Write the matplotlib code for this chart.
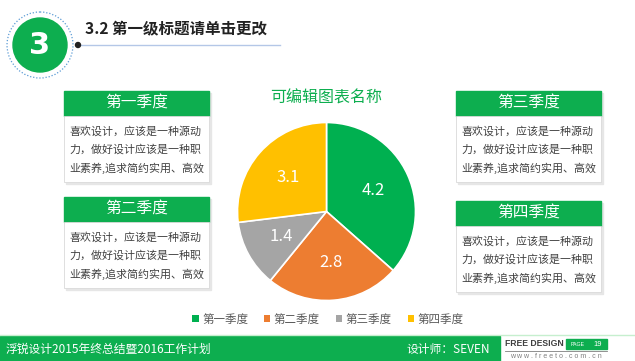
import matplotlib
matplotlib.use('Agg')
from matplotlib import pyplot as plt
from matplotlib.patches import Rectangle, Circle
import numpy as np

plt.rcParams['font.family'] = ['Noto Sans CJK SC', 'DejaVu Sans']

# data
quarters = ['第一季度', '第二季度', '第三季度', '第四季度']
values = [4.2, 2.8, 1.4, 3.1]
colors = ['#00B050', '#ED7D31', '#A5A5A5', '#FFC000']
chart_title = '可编辑图表名称'
page_title = '3.2 第一级标题请单击更改'
body_lines = ['喜欢设计，应该是一种源动', '力，做好设计应该是一种职', '业素养,追求简约实用、高效']
footer_left = '浮锐设计2015年终总结暨2016工作计划'
footer_right = '设计师：SEVEN'

W, H = 635, 361
GREEN = '#0DAE4F'
LATIN = ['Liberation Sans', 'DejaVu Sans']
fig = plt.figure(figsize=(W / 100, H / 100), dpi=100)
bg = fig.add_axes([0, 0, 1, 1])
bg.set_xlim(0, W)
bg.set_ylim(H, 0)
bg.axis('off')

# section badge + title
bg.add_patch(Circle((40, 45), 33, fill=False, ec='#5B9BD5', ls=(0, (1, 1.5)), lw=0.9))
bg.add_patch(Circle((40, 45), 27, color=GREEN))
bg.text(40, 46, '3', color='white', fontsize=22, fontweight='bold', ha='center', va='center',
        family='DejaVu Sans')
bg.plot([78, 280], [45, 45], color='#B4C7E7', lw=1)
bg.add_patch(Circle((78, 45), 2.5, color='#222222', zorder=3))
bg.text(85, 29, page_title, fontsize=11.2, fontweight='bold', color='#222222', va='center')

# quarter boxes
boxes = [(64, 91), (64, 197), (456, 91), (456, 201)]
for (x0, y0), q in zip(boxes, quarters):
    bw = 145
    bg.add_patch(Rectangle((x0 + 1.5, y0 + 1.5), bw, 91, color='#E6E6E6', zorder=1))
    bg.add_patch(Rectangle((x0, y0), bw, 24.5, color=GREEN, zorder=2))
    bg.add_patch(Rectangle((x0, y0 + 24.5), bw, 66, fc='white', ec='#D9D9D9', lw=0.6, zorder=2))
    bg.text(x0 + bw / 2, y0 + 12, q, color='white', fontsize=11.3, ha='center', va='center', zorder=3)
    for i, line in enumerate(body_lines):
        bg.text(x0 + 5, y0 + 40 + i * 18.5, line, color='#404040', fontsize=7.9, va='center', zorder=3)

# chart title
bg.text(326, 98, chart_title, color=GREEN, fontsize=11.5, ha='center', va='center')

# pie
cx, cy, r = 326.5, 211.5, 89
pax = fig.add_axes([(cx - r) / W, (H - cy - r) / H, 2 * r / W, 2 * r / H])
total = sum(values)
wedges, _, autotexts = pax.pie(values, colors=colors, startangle=90, counterclock=False,
                               autopct=lambda p: f'{p * total / 100:.1f}', pctdistance=0.58,
                               wedgeprops=dict(edgecolor='white', linewidth=1.2))
for t in autotexts:
    t.set_color('white')
    t.set_fontsize(12)
pax.set_xlim(-1, 1)
pax.set_ylim(-1, 1)
pax.set_aspect('auto')

fig.legend(wedges, quarters, ncol=4, loc='center', bbox_to_anchor=(328 / W, 1 - 319 / H),
           frameon=False, fontsize=8.3, handlelength=0.55, handleheight=0.55,
           handletextpad=0.3, columnspacing=1.4, labelcolor='#595959')
for h in fig.legends[0].legend_handles:
    h.set_edgecolor('none')

# footer
bg.plot([0, W], [335, 335], color='#C6EFCE', lw=1)
bg.add_patch(Rectangle((0, 336), 500, H - 336, color=GREEN))
bg.text(6, 349, footer_left, color='white', fontsize=8.5, va='center')
bg.text(490, 349, footer_right, color='white', fontsize=8.5, va='center', ha='right')
bg.text(505, 344, 'FREE DESIGN', color='#404040', fontsize=6.2, fontweight='bold', va='center',
        family=LATIN)
bg.add_patch(Rectangle((566, 339), 41, 10, color=GREEN))
bg.text(571, 344, 'PAGE', color='white', fontsize=3.8, va='center', family=LATIN)
bg.text(602, 344, '19', color='white', fontsize=5.5, va='center', ha='right', family=LATIN)
bg.plot([505, 607], [350.5, 350.5], color='#7F7F7F', lw=0.6)
bg.text(556, 356, 'w w w . f r e e t o . c o m . c n', color='#7F7F7F', fontsize=5, va='center',
        ha='center', family=LATIN)

fig.savefig('out.png', dpi=100)
